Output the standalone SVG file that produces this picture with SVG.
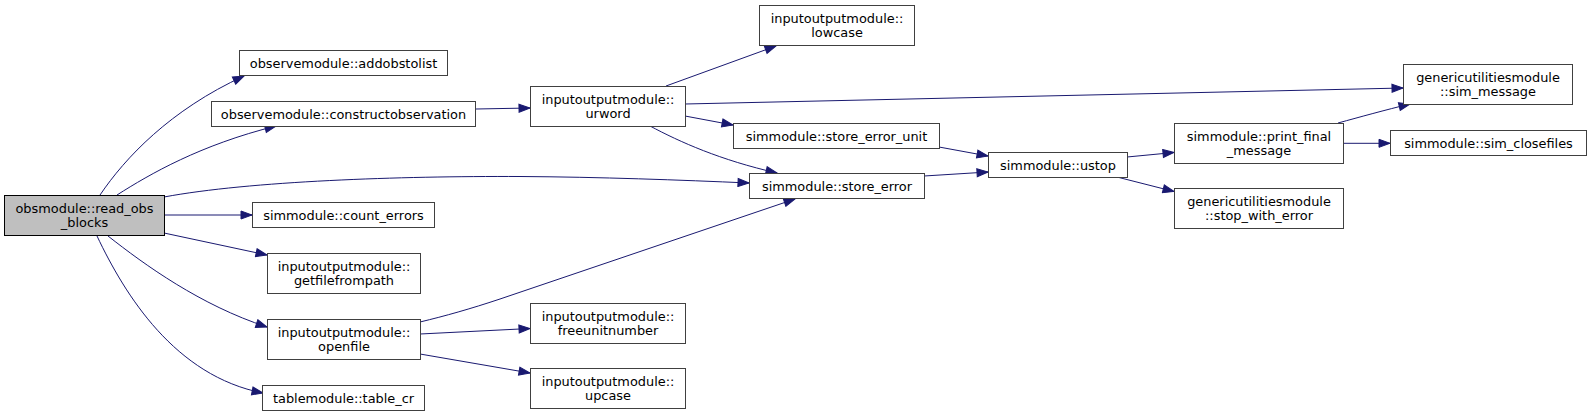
<svg xmlns="http://www.w3.org/2000/svg" width="1591" height="417" viewBox="0 0 1591 417">
<style>
.n rect{fill:#ffffff;stroke:#404040;stroke-width:1}
.root rect{fill:#bfbfbf;stroke:#000000;stroke-width:1}
text{font-family:"DejaVu Sans","Liberation Sans",sans-serif;font-size:12.9px;fill:#000;text-anchor:middle}
.e path{fill:none;stroke:#191970;stroke-width:1;marker-end:url(#ah)}
</style>
<defs>
<marker id="ah" markerUnits="userSpaceOnUse" markerWidth="14" markerHeight="10" viewBox="0 -5 12 10" refX="11.5" refY="0" orient="auto">
<path d="M0.5,-4 L11.5,0 L0.5,4 z" fill="#191970" stroke="#191970" stroke-width="1"/>
</marker>
</defs>
<rect width="1591" height="417" fill="#ffffff"/>
<g id="edges" class="e">
<path d="M100,195 C125,158 170,110 244,76"/>
<path d="M117,195 C150,174 200,145 276,126"/>
<path d="M164,197 C250,181 400,176 520,176.5 C600,177 680,180 749,183"/>
<path d="M164,215 L252,215"/>
<path d="M164,233 L267,255"/>
<path d="M108,236 C145,265 200,305 267,327"/>
<path d="M97,236 C125,295 175,376 263,393"/>
<path d="M476,109 L530,108"/>
<path d="M666,86 L776,46"/>
<path d="M685,104 L1403,88"/>
<path d="M685,116 L733,125"/>
<path d="M650,126 C680,142 720,160 777,173"/>
<path d="M420,322 C445,316 470,309 500,299 L795,199"/>
<path d="M420,334 L530,328.5"/>
<path d="M420,354 L530,373"/>
<path d="M939,147 L988,156"/>
<path d="M924,176 L988,172"/>
<path d="M1127,157 L1174,152.5"/>
<path d="M1117,177 L1174,191.5"/>
<path d="M1338,123 C1360,117 1385,110 1410,104"/>
<path d="M1343,143.3 L1390,143.3"/>
</g>
<g id="read_obs_blocks" class="root"><rect x="4.5" y="195.5" width="160" height="40"/><text x="84.5" y="212.5">obsmodule::read_obs</text><text x="84.5" y="226.5">_blocks</text></g>
<g id="addobstolist" class="n"><rect x="239.5" y="50.5" width="208" height="25"/><text x="343.5" y="67.5">observemodule::addobstolist</text></g>
<g id="constructobservation" class="n"><rect x="211.5" y="101.5" width="264" height="25"/><text x="343.5" y="118.5">observemodule::constructobservation</text></g>
<g id="count_errors" class="n"><rect x="252.5" y="202.5" width="182" height="25"/><text x="343.5" y="219.5">simmodule::count_errors</text></g>
<g id="getfilefrompath" class="n"><rect x="267.5" y="253.5" width="153" height="40"/><text x="344" y="270.5">inputoutputmodule::</text><text x="344" y="284.5">getfilefrompath</text></g>
<g id="openfile" class="n"><rect x="267.5" y="319.5" width="153" height="40"/><text x="344" y="336.5">inputoutputmodule::</text><text x="344" y="350.5">openfile</text></g>
<g id="table_cr" class="n"><rect x="262.5" y="385.5" width="162" height="25"/><text x="343.5" y="402.5">tablemodule::table_cr</text></g>
<g id="urword" class="n"><rect x="530.5" y="86.5" width="155" height="40"/><text x="608" y="103.5">inputoutputmodule::</text><text x="608" y="117.5">urword</text></g>
<g id="freeunitnumber" class="n"><rect x="530.5" y="303.5" width="155" height="40"/><text x="608" y="320.5">inputoutputmodule::</text><text x="608" y="334.5">freeunitnumber</text></g>
<g id="upcase" class="n"><rect x="530.5" y="368.5" width="155" height="40"/><text x="608" y="385.5">inputoutputmodule::</text><text x="608" y="399.5">upcase</text></g>
<g id="lowcase" class="n"><rect x="759.5" y="5.5" width="155" height="40"/><text x="837" y="22.5">inputoutputmodule::</text><text x="837" y="36.5">lowcase</text></g>
<g id="store_error_unit" class="n"><rect x="733.5" y="123.5" width="206" height="25"/><text x="836.5" y="140.5">simmodule::store_error_unit</text></g>
<g id="store_error" class="n"><rect x="749.5" y="173.5" width="175" height="25"/><text x="837" y="190.5">simmodule::store_error</text></g>
<g id="ustop" class="n"><rect x="988.5" y="152.5" width="139" height="25"/><text x="1058" y="169.5">simmodule::ustop</text></g>
<g id="print_final_message" class="n"><rect x="1174.5" y="123.5" width="169" height="40"/><text x="1259" y="140.5">simmodule::print_final</text><text x="1259" y="154.5">_message</text></g>
<g id="stop_with_error" class="n"><rect x="1174.5" y="188.5" width="169" height="40"/><text x="1259" y="205.5">genericutilitiesmodule</text><text x="1259" y="219.5">::stop_with_error</text></g>
<g id="sim_message" class="n"><rect x="1403.5" y="64.5" width="169" height="40"/><text x="1488" y="81.5">genericutilitiesmodule</text><text x="1488" y="95.5">::sim_message</text></g>
<g id="sim_closefiles" class="n"><rect x="1390.5" y="130.5" width="196" height="25"/><text x="1488.5" y="147.5">simmodule::sim_closefiles</text></g>
</svg>
